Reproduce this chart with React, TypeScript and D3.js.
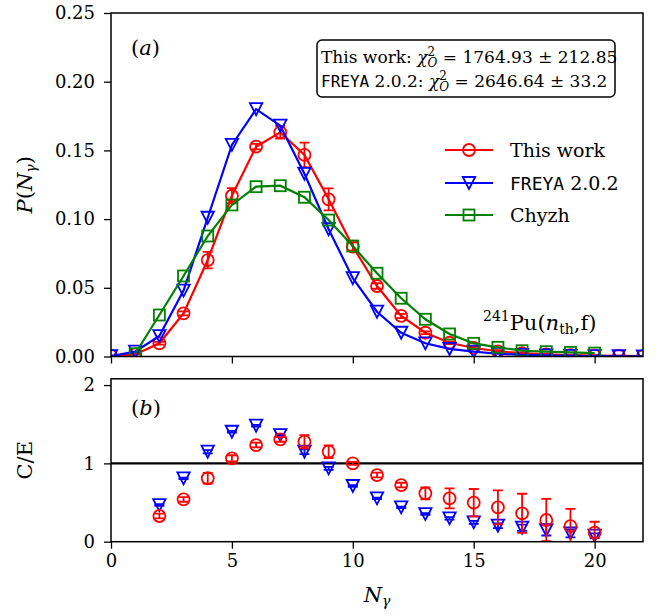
import React, { useEffect, useRef } from 'react';
import * as d3 from 'd3';

const width = 662;
const height = 616;
const red = '#ff0000';
const blue = '#0000ff';
const green = '#008000';
const serif = '"DejaVu Serif", serif';
const mono = '"DejaVu Sans Mono", monospace';

// P(N_gamma)
const nTop = [0, 1, 2, 3, 4, 5, 6, 7, 8, 9, 10, 11, 12, 13, 14, 15, 16, 17, 18, 19, 20, 21, 22];
const thisWork = [0.0005, 0.0015, 0.0096, 0.0314, 0.0702, 0.117, 0.1527, 0.1632, 0.1467, 0.1144, 0.080, 0.0513, 0.0295, 0.0173, 0.010, 0.0062, 0.0038, 0.0024, 0.0015, 0.001, 0.0006, 0.0004, 0.0002];
const thisWorkErr = [0, 0, 0.001, 0.0015, 0.006, 0.0055, 0.002, 0.0046, 0.009, 0.008, 0.003, 0.002, 0.0015, 0.001, 0.001, 0.001, 0.0008, 0.0006, 0.0005, 0.0004, 0.0003, 0.0002, 0.0001];
const freya = [0.0003, 0.0035, 0.0149, 0.048, 0.101, 0.154, 0.180, 0.168, 0.133, 0.0926, 0.057, 0.0326, 0.0173, 0.0096, 0.0055, 0.0035, 0.002, 0.0012, 0.0008, 0.0005, 0.0003, 0.0002, 0.0001];
const nChyzh = [1, 2, 3, 4, 5, 6, 7, 8, 9, 10, 11, 12, 13, 14, 15, 16, 17, 18, 19, 20];
const chyzh = [0.002, 0.0302, 0.0586, 0.0877, 0.1103, 0.1236, 0.1243, 0.1159, 0.0993, 0.0804, 0.0606, 0.0424, 0.0271, 0.0164, 0.0096, 0.0067, 0.0042, 0.0035, 0.003, 0.0025];

// C/E, panel (b)
const nBot = [2, 3, 4, 5, 6, 7, 8, 9, 10, 11, 12, 13, 14, 15, 16, 17, 18, 19, 20];
const ceThis = [0.328, 0.54, 0.81, 1.064, 1.234, 1.306, 1.277, 1.149, 1.0, 0.851, 0.723, 0.617, 0.553, 0.498, 0.438, 0.362, 0.277, 0.2, 0.115];
const ceThisErr = [0.03, 0.03, 0.068, 0.04, 0.03, 0.03, 0.085, 0.08, 0.02, 0.03, 0.03, 0.075, 0.128, 0.175, 0.217, 0.25, 0.27, 0.22, 0.14];
const ceFreya = [0.468, 0.809, 1.149, 1.404, 1.481, 1.362, 1.149, 0.936, 0.711, 0.553, 0.438, 0.353, 0.298, 0.247, 0.204, 0.179, 0.149, 0.106, 0.077];
const ceFreyaErr = [0.01, 0.01, 0.02, 0.01, 0.01, 0.01, 0.03, 0.02, 0.01, 0.01, 0.01, 0.01, 0.015, 0.02, 0.03, 0.04, 0.07, 0.05, 0.03];

const xTicks = [0, 5, 10, 15, 20];
const yTopTicks = [0, 0.05, 0.1, 0.15, 0.2, 0.25];
const yBotTicks = [0, 1, 2];

const left = 111, right = 643;
const topA = 13, botA = 356.5;
const topB = 378.8, botB = 541.7;

const x = d3.scaleLinear().domain([0, 22]).range([left, right]);
const yTop = d3.scaleLinear().domain([0, 0.25]).range([botA, topA]);
const yBot = d3.scaleLinear().domain([0, 2.08]).range([botB, topB]);

const Circle = ({ cx, cy, c }) => <circle cx={cx} cy={cy} r={6} fill="none" stroke={c} strokeWidth={1.8} />;
const Tri = ({ cx, cy, c }) => (
  <path d={`M${cx - 6.2},${cy - 6}L${cx + 6.2},${cy - 6}L${cx},${cy + 6}Z`} fill="none" stroke={c} strokeWidth={1.8} />
);
const Sq = ({ cx, cy, c }) => <rect x={cx - 5.5} y={cy - 5.5} width={11} height={11} fill="none" stroke={c} strokeWidth={1.8} />;

const ErrBar = ({ cx, y0, y1, c }) => (
  <g stroke={c} strokeWidth={1.8}>
    <line x1={cx} x2={cx} y1={y0} y2={y1} />
    <line x1={cx - 5} x2={cx + 5} y1={y0} y2={y0} />
    <line x1={cx - 5} x2={cx + 5} y1={y1} y2={y1} />
  </g>
);

function App() {
  const xAxisA = useRef(null);
  const xAxisB = useRef(null);
  const yAxisA = useRef(null);
  const yAxisB = useRef(null);

  useEffect(() => {
    const style = (g) => {
      g.select('.domain').remove();
      g.selectAll('line').attr('stroke', '#000').attr('stroke-width', 1.3);
      g.selectAll('text').attr('font-family', serif).attr('font-size', 18).attr('fill', '#000');
    };
    d3.select(xAxisA.current).call(d3.axisBottom(x).tickValues(xTicks).tickSize(7).tickFormat(() => '')).call(style);
    d3.select(xAxisB.current).call(d3.axisBottom(x).tickValues(xTicks).tickSize(7).tickPadding(6).tickFormat(d3.format('d'))).call(style);
    d3.select(yAxisA.current).call(d3.axisLeft(yTop).tickValues(yTopTicks).tickSize(7).tickPadding(9).tickFormat(d3.format('.2f'))).call(style);
    d3.select(yAxisB.current).call(d3.axisLeft(yBot).tickValues(yBotTicks).tickSize(7).tickPadding(9).tickFormat(d3.format('d'))).call(style);
  }, []);

  const line = d3.line<number>();
  const pathOf = (ns: number[], vs: number[]) => line(ns.map((n, i) => [x(n), yTop(vs[i])]));

  return (
    <svg width={width} height={height} style={{ position: 'absolute', left: 0, top: 0, background: '#fff' }}>
      <defs>
        <clipPath id="clipA"><rect x={left} y={topA} width={right - left} height={botA - topA} /></clipPath>
        <clipPath id="clipB"><rect x={left} y={topB} width={right - left} height={botB - topB} /></clipPath>
      </defs>

      {/* panel (a) */}
      <g clipPath="url(#clipA)">
        <path d={pathOf(nTop, thisWork)} fill="none" stroke={red} strokeWidth={2.2} />
        {nTop.map((n, i) => (
          <ErrBar key={'e' + n} cx={x(n)} y0={yTop(thisWork[i] - thisWorkErr[i])} y1={yTop(thisWork[i] + thisWorkErr[i])} c={red} />
        ))}
        {nTop.map((n, i) => <Circle key={'c' + n} cx={x(n)} cy={yTop(thisWork[i])} c={red} />)}
        <path d={pathOf(nTop, freya)} fill="none" stroke={blue} strokeWidth={2.2} />
        {nTop.map((n, i) => <Tri key={'t' + n} cx={x(n)} cy={yTop(freya[i])} c={blue} />)}
        <path d={pathOf(nChyzh, chyzh)} fill="none" stroke={green} strokeWidth={2.2} />
        {nChyzh.map((n, i) => <Sq key={'s' + n} cx={x(n)} cy={yTop(chyzh[i])} c={green} />)}
      </g>
      <rect x={left} y={topA} width={right - left} height={botA - topA} fill="none" stroke="#000" strokeWidth={1.5} />
      <g ref={xAxisA} transform={`translate(0,${botA})`} />
      <g ref={yAxisA} transform={`translate(${left},0)`} />

      <text x={131} y={55} fontSize={21} fontFamily={serif}>(<tspan fontStyle="italic">a</tspan>)</text>

      {/* chi2 box */}
      <rect x={317} y={40} width={298} height={57} rx={5} fill="#fff" stroke="#000" strokeWidth={1.5} />
      <text x={321} y={63} fontSize={17} fontFamily={serif}>
        This work: <tspan fontStyle="italic">χ</tspan>
        <tspan fontSize={12} dy={-7}>2</tspan>
        <tspan fontSize={12} fontStyle="italic" dx={-7.6} dy={11}>O</tspan>
        <tspan dy={-4}> = 1764.93 ± 212.85</tspan>
      </text>
      <text x={321} y={87} fontSize={17} fontFamily={serif}>
        <tspan fontFamily={mono} fontSize={16}>FREYA</tspan> 2.0.2: <tspan fontStyle="italic">χ</tspan>
        <tspan fontSize={12} dy={-7}>2</tspan>
        <tspan fontSize={12} fontStyle="italic" dx={-7.6} dy={11}>O</tspan>
        <tspan dy={-4}> = 2646.64 ± 33.2</tspan>
      </text>

      {/* legend */}
      <g fontFamily={serif}>
        <line x1={445} x2={493} y1={150} y2={150} stroke={red} strokeWidth={2.2} />
        <Circle cx={469} cy={150} c={red} />
        <text x={510} y={157} fontSize={19}>This work</text>
        <line x1={445} x2={493} y1={183} y2={183} stroke={blue} strokeWidth={2.2} />
        <Tri cx={469} cy={183} c={blue} />
        <text x={510} y={190} fontSize={19}><tspan fontFamily={mono} fontSize={18}>FREYA</tspan> 2.0.2</text>
        <line x1={445} x2={493} y1={215} y2={215} stroke={green} strokeWidth={2.2} />
        <Sq cx={469} cy={215} c={green} />
        <text x={510} y={222} fontSize={19}>Chyzh</text>
      </g>

      <text x={483} y={330} fontSize={21} fontFamily={serif}>
        <tspan fontSize={14} dy={-9}>241</tspan>
        <tspan dy={9}>Pu(</tspan><tspan fontStyle="italic">n</tspan>
        <tspan fontSize={14} dy={4}>th</tspan>
        <tspan dy={-4}>,f)</tspan>
      </text>

      {/* panel (b) */}
      <line x1={left} x2={right} y1={yBot(1)} y2={yBot(1)} stroke="#000" strokeWidth={2.2} />
      <g clipPath="url(#clipB)">
        {nBot.map((n, i) => (
          <ErrBar key={'fe' + n} cx={x(n)} y0={yBot(ceFreya[i] - ceFreyaErr[i])} y1={yBot(ceFreya[i] + ceFreyaErr[i])} c={blue} />
        ))}
        {nBot.map((n, i) => <Tri key={'ft' + n} cx={x(n)} cy={yBot(ceFreya[i])} c={blue} />)}
        {nBot.map((n, i) => (
          <ErrBar key={'te' + n} cx={x(n)} y0={yBot(ceThis[i] - ceThisErr[i])} y1={yBot(ceThis[i] + ceThisErr[i])} c={red} />
        ))}
        {nBot.map((n, i) => <Circle key={'tc' + n} cx={x(n)} cy={yBot(ceThis[i])} c={red} />)}
      </g>
      <rect x={left} y={topB} width={right - left} height={botB - topB} fill="none" stroke="#000" strokeWidth={1.5} />
      <g ref={xAxisB} transform={`translate(0,${botB})`} />
      <g ref={yAxisB} transform={`translate(${left},0)`} />

      <text x={131} y={415} fontSize={21} fontFamily={serif}>(<tspan fontStyle="italic">b</tspan>)</text>

      {/* axis labels */}
      <text transform={`translate(32,${(topA + botA) / 2}) rotate(-90)`} textAnchor="middle" fontSize={21} fontFamily={serif}>
        <tspan fontStyle="italic">P</tspan>(<tspan fontStyle="italic">N</tspan>
        <tspan fontStyle="italic" fontSize={14} dy={4}>γ</tspan>
        <tspan dy={-4}>)</tspan>
      </text>
      <text transform={`translate(32,${(topB + botB) / 2}) rotate(-90)`} textAnchor="middle" fontSize={21} fontFamily={serif}>C/E</text>
      <text x={(left + right) / 2} y={602} textAnchor="middle" fontSize={21} fontFamily={serif}>
        <tspan fontStyle="italic">N</tspan>
        <tspan fontStyle="italic" fontSize={14} dy={4}>γ</tspan>
      </text>
    </svg>
  );
}

export default App;
